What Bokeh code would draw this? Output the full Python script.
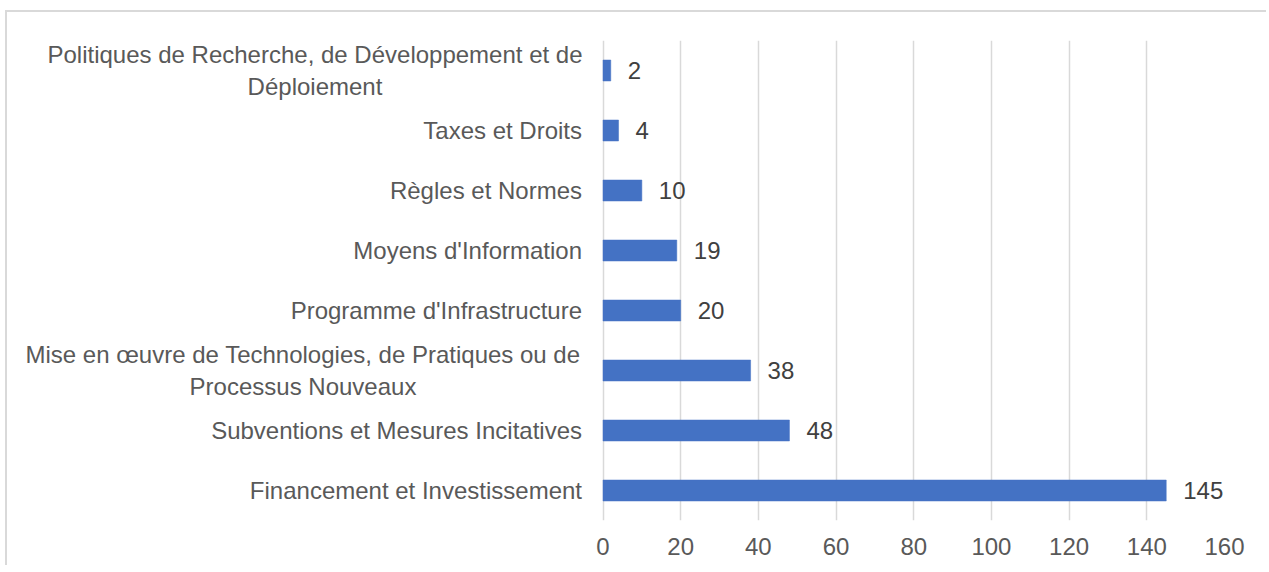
from bokeh.plotting import figure
from bokeh.models import ColumnDataSource, FactorRange, Range1d, FixedTicker
from bokeh.core.properties import value
from bokeh.embed import file_html
from bokeh.resources import INLINE

categories = [
    "Politiques de Recherche, de Développement et de\nDéploiement",
    "Taxes et Droits",
    "Règles et Normes",
    "Moyens d'Information",
    "Programme d'Infrastructure",
    "Mise en œuvre de Technologies, de Pratiques ou de\nProcessus Nouveaux",
    "Subventions et Mesures Incitatives",
    "Financement et Investissement",
]
values = [2, 4, 10, 19, 20, 38, 48, 145]
x_ticks = [0, 20, 40, 60, 80, 100, 120, 140, 160]

FONT = "Liberation Sans"
TEXT = "#595959"
FS = "24px"

src = ColumnDataSource(dict(cat=categories, val=values, lab=[str(v) for v in values]))

# canvas origin sits at page (7, 12) thanks to the CSS margin + border below
W, H = 1261, 555
FRAME_L, FRAME_R = 5, 1217          # canvas px
ZERO_X = 595.5                      # canvas px where value 0 sits
px_per_unit = (FRAME_R - ZERO_X) / 160.0
x_start = -(ZERO_X - FRAME_L) / px_per_unit

p = figure(
    width=W, height=H,
    y_range=FactorRange(factors=list(reversed(categories)), range_padding=0),
    x_range=Range1d(x_start, 160),
    output_backend="svg", toolbar_location=None,
    min_border_left=FRAME_L, min_border_right=W - FRAME_R, min_border_top=28, min_border_bottom=H - 28 - 480,
)
p.styles = {"margin-left": "5px", "margin-top": "10px",
            "border-left": "2px solid #d9d9d9", "border-top": "2px solid #d9d9d9"}
p.outline_line_color = None
p.background_fill_color = "white"

p.hbar(y="cat", right="val", left=0, height=0.35, source=src,
       fill_color="#4472C4", line_color="#4472C4", line_width=0.5)

p.text(x="val", y="cat", text="lab", source=src, x_offset=17,
       text_baseline="middle", text_align="left",
       text_font=value(FONT), text_font_size=FS, text_color="#404040")

# category labels (single-line right-aligned, multi-line centred block)
single = [c for c in categories if "\n" not in c]
multi = [c for c in categories if "\n" in c]
p.text(x=0, y="cat", text="cat", source=ColumnDataSource(dict(cat=single)),
       x_offset=-21, text_baseline="middle", text_align="right",
       text_font=value(FONT), text_font_size=FS, text_color=TEXT)
multi_offsets = [-288, -300]
for c, off in zip(multi, multi_offsets):
    p.text(x=0, y="cat", text="cat", source=ColumnDataSource(dict(cat=[c])),
           x_offset=off, text_baseline="middle", text_align="center",
           text_line_height=1.15,
           text_font=value(FONT), text_font_size=FS, text_color=TEXT)

p.xgrid.grid_line_color = "#d9d9d9"
p.xgrid.grid_line_width = 1.5
p.ygrid.grid_line_color = None

p.xaxis.ticker = FixedTicker(ticks=x_ticks)
p.xaxis.axis_line_color = None
p.xaxis.major_tick_line_color = None
p.xaxis.minor_tick_line_color = None
p.xaxis.major_label_standoff = 11
p.xaxis.major_label_text_font = FONT
p.xaxis.major_label_text_font_size = FS
p.xaxis.major_label_text_color = TEXT

p.yaxis.visible = False

open("out.html", "w").write(file_html(p, INLINE))
